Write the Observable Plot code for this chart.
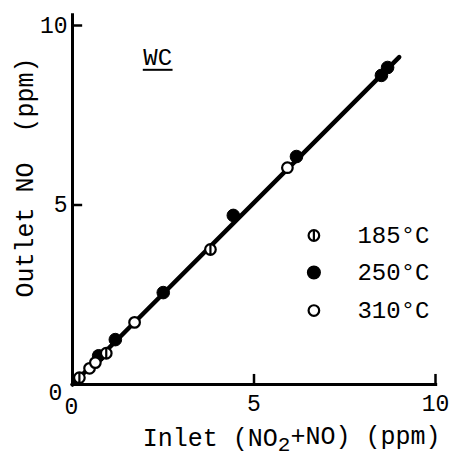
<!DOCTYPE html>
<html>
<head>
<meta charset="utf-8">
<script src="https://cdn.jsdelivr.net/npm/d3@7"></script>
<script src="https://cdn.jsdelivr.net/npm/@observablehq/plot@0.6"></script>
<style>
  html, body { margin: 0; padding: 0; background: #fff; }
  svg { display: block; }
</style>
</head>
<body>
<div id="chart"></div>
<script>
// ---- data ----
const x185 = [0.19, 0.93, 3.80];
const y185 = [0.19, 0.87, 3.76];
const x250 = [0.72, 1.18, 2.50, 4.43, 6.17, 8.51, 8.68];
const y250 = [0.80, 1.25, 2.56, 4.71, 6.35, 8.61, 8.83];
const x310 = [0.47, 0.63, 1.71, 5.92];
const y310 = [0.45, 0.61, 1.73, 6.04];
const fitX = [0, 9.0];
const fitY = [0, 9.12];
const xTicks = [5, 10];
const yTicks = [5, 10];
const legendLabels = ["185°C", "250°C", "310°C"];
const legendY = [4.15, 3.12, 2.06];
const legendSymbolX = 6.65;
const legendTextX = 7.85;
const panelLabel = "WC";
const panelX = 1.95;
const panelY = 9.1;

const font = "'Liberation Mono', 'DejaVu Sans Mono', monospace";

const zip = (xs, ys) => xs.map((x, i) => ({x, y: ys[i]}));
const d185 = zip(x185, y185);
const d250 = zip(x250, y250);
const d310 = zip(x310, y310);
const fit = zip(fitX, fitY);

// circle with a vertical bar (185 °C symbol)
const barCircle = {
  draw(ctx, size) {
    const r = Math.sqrt(size / Math.PI);
    ctx.moveTo(r, 0);
    ctx.arc(0, 0, r, 0, 2 * Math.PI);
    ctx.moveTo(0, -r);
    ctx.lineTo(0, r);
  }
};

const legend = legendLabels.map((label, i) => ({label, y: legendY[i], i}));

const plot = Plot.plot({
  width: 450,
  height: 459,
  marginLeft: 72,
  marginRight: 15,
  marginTop: 25,
  marginBottom: 75,
  style: {fontFamily: font, fontSize: "23px", color: "#000", background: "#fff"},
  x: {domain: [0, 10]},
  y: {domain: [0, 10]},
  marks: [
    // axis lines
    Plot.ruleY([0], {x1: 0, x2: 10.06, stroke: "#000", strokeWidth: 3}),
    Plot.ruleX([0], {y1: -0.02, y2: 10.33, stroke: "#000", strokeWidth: 3}),
    // inward ticks
    Plot.ruleX(xTicks, {y1: 0, y2: 0.28, stroke: "#000", strokeWidth: 2.5}),
    Plot.ruleY(yTicks, {x1: 0, x2: 0.28, stroke: "#000", strokeWidth: 2.5}),
    // tick labels
    Plot.axisX(xTicks, {tickSize: 0, tickPadding: 10, fontSize: 23, fontFamily: font, label: null}),
    Plot.axisY(yTicks, {tickSize: 0, tickPadding: 5, fontSize: 23, fontFamily: font, label: null}),
    Plot.text([0], {x: 0, y: 0, text: () => "0", dx: -17, dy: 8, fontSize: 23, fontFamily: font}),
    Plot.text([0], {x: 0, y: 0, text: () => "0", dx: -1, dy: 22, fontSize: 23, fontFamily: font}),
    // fit line
    Plot.line(fit, {x: "x", y: "y", stroke: "#000", strokeWidth: 4.5, strokeLinecap: "round"}),
    // data
    Plot.dot(d250, {x: "x", y: "y", r: 6.3, fill: "#000", stroke: "#000", strokeWidth: 1}),
    Plot.dot(d310, {x: "x", y: "y", r: 5.3, fill: "#fff", stroke: "#000", strokeWidth: 2.2}),
    Plot.dot(d185, {x: "x", y: "y", r: 5.3, symbol: barCircle, fill: "#fff", stroke: "#000", strokeWidth: 2.2}),
    // legend
    Plot.dot(legend.filter(d => d.i === 0), {x: legendSymbolX, y: "y", r: 5.3, symbol: barCircle, fill: "#fff", stroke: "#000", strokeWidth: 2.2}),
    Plot.dot(legend.filter(d => d.i === 1), {x: legendSymbolX, y: "y", r: 6.3, fill: "#000", stroke: "#000"}),
    Plot.dot(legend.filter(d => d.i === 2), {x: legendSymbolX, y: "y", r: 5.3, fill: "#fff", stroke: "#000", strokeWidth: 2.2}),
    Plot.text(legend, {x: legendTextX, y: "y", text: "label", textAnchor: "start", fontSize: 24, fontFamily: font}),
    // panel label
    Plot.text([panelLabel], {x: panelX, y: panelY, text: d => d, textAnchor: "start", fontSize: 24, fontFamily: font}),
    Plot.ruleY([panelY], {x1: panelX, x2: panelX + 0.82, dy: 12, stroke: "#000", strokeWidth: 2}),
    // axis titles
    Plot.text(["Inlet (NO +NO) (ppm)"], {frameAnchor: "bottom-right", text: d => d, textAnchor: "end", dx: 5, dy: 61, fontSize: 25, fontFamily: font}),
    Plot.text(["Outlet NO  (ppm)"], {frameAnchor: "top-left", text: d => d, rotate: -90, textAnchor: "end", dx: -57, dy: 32, fontSize: 25, fontFamily: font})
  ]
});

// subscript "2" in the x title
d3.select(plot).selectAll("text").filter(function() { return this.textContent === "Inlet (NO +NO) (ppm)"; })
  .each(function() {
    const t = d3.select(this);
    t.text(null);
    t.append("tspan").text("Inlet (NO");
    t.append("tspan").attr("dy", "0.28em").attr("font-size", "21").text("2");
    t.append("tspan").attr("dy", "-0.28em").text("+NO) (ppm)");
  });

document.getElementById("chart").appendChild(plot);
</script>
</body>
</html>
